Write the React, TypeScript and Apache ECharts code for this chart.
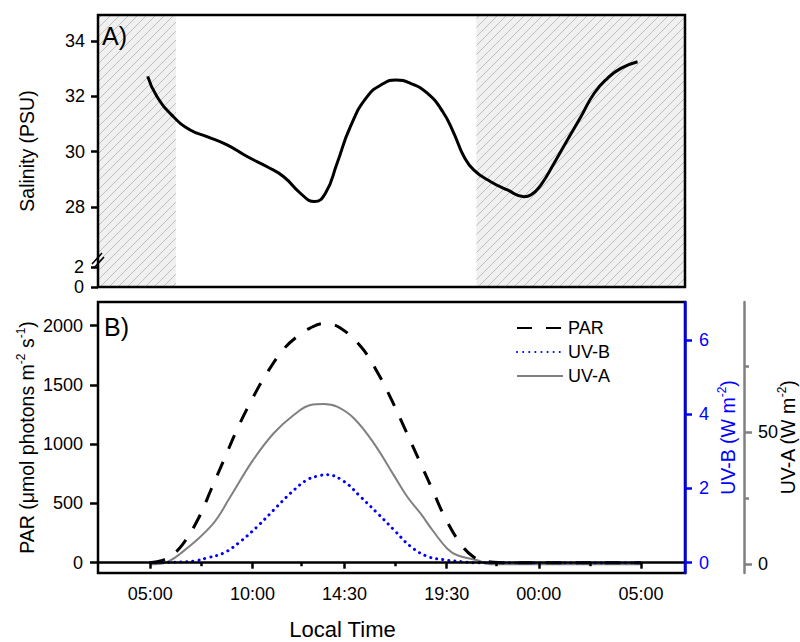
import React, { useEffect, useRef } from 'react';
import * as echarts from 'echarts';

// ---------- data ----------
const X_MIN = 2.45;
const X_MAX = 31.15;
const TIME_TICKS = [5, 10, 14.5, 19.5, 24, 29];
const TIME_LABELS = ['05:00', '10:00', '14:30', '19:30', '00:00', '05:00'];
const TIME_MINOR_TICKS = [7.5, 12.4, 17, 21.9, 26.5];
const NIGHT_BANDS: [number, number][] = [[2.45, 6.26], [20.95, 31.15]];

const SAL_UPPER_TICKS = [28, 30, 32, 34];
const SAL_LOWER_TICKS = [0, 2];
const PAR_TICKS = [0, 500, 1000, 1500, 2000];
const UVB_TICKS = [0, 2, 4, 6];
const UVA_TICKS = [0, 50];
const UVA_MINOR_TICKS = [25, 75];

const SALINITY: [number, number][] = [
  [4.88, 32.72], [5.33, 31.99], [6.14, 31.26], [6.96, 30.78], [7.78, 30.54], [8.76, 30.24],
  [9.74, 29.82], [10.72, 29.45], [11.53, 29.09], [12.35, 28.49], [13.03, 28.19], [13.57, 28.49],
  [14.14, 29.58], [14.79, 30.9], [15.61, 31.99], [16.43, 32.47], [17.0, 32.59], [17.73, 32.47],
  [18.55, 32.11], [19.3, 31.45], [19.85, 30.66], [20.34, 29.82], [20.83, 29.33], [21.65, 28.91],
  [22.47, 28.61], [23.28, 28.37], [23.61, 28.43], [24.1, 28.79], [24.75, 29.58], [25.4, 30.42],
  [26.06, 31.26], [26.71, 32.11], [27.36, 32.65], [28.01, 33.01], [28.83, 33.25],
];

const PAR: [number, number][] = [
  [5.0, 0], [5.6, 20], [6.0, 55], [6.58, 152], [7.37, 377], [7.99, 622], [8.64, 881], [9.26, 1128],
  [9.95, 1369], [10.73, 1606], [11.53, 1803], [12.2, 1910], [12.82, 1980], [13.5, 2018], [14.22, 1989],
  [15.32, 1820], [16.18, 1586], [16.84, 1361], [17.49, 1117], [18.14, 869], [18.8, 616], [19.45, 369],
  [20.21, 152], [20.8, 50], [21.3, 17], [21.8, 3], [22.3, 0], [29, 0],
];

const UVA: [number, number][] = [
  [5.0, 0], [5.64, 0.4], [6.47, 4.0], [8.02, 14.8], [8.92, 25.5], [9.98, 38.8], [11.04, 49.5],
  [12.02, 56.4], [12.84, 60.2], [13.49, 60.6], [14.14, 59.6], [14.96, 55.2], [15.94, 45.7],
  [16.91, 33.7], [17.57, 25.5], [18.22, 19.2], [18.87, 12.2], [19.53, 5.9], [20.02, 3.4],
  [21.0, 1.5], [21.65, 0], [29, 0],
];

const UVB: [number, number][] = [
  [5.0, 0], [6.13, 0.01], [7.2, 0.05], [7.78, 0.13], [8.59, 0.26], [9.41, 0.57], [10.23, 0.97],
  [11.04, 1.42], [11.86, 1.87], [12.67, 2.23], [13.33, 2.35], [13.65, 2.37], [14.47, 2.19],
  [15.28, 1.78], [16.1, 1.34], [16.91, 0.89], [17.73, 0.44], [18.55, 0.17], [19.36, 0.08],
  [20.18, 0.03], [21.0, 0], [29, 0],
];

const FONT = "'Liberation Sans', Arial, Helvetica, sans-serif";

function makeHatch(): HTMLCanvasElement {
  const s = 9;
  const c = document.createElement('canvas');
  c.width = s;
  c.height = s;
  const ctx = c.getContext('2d')!;
  ctx.fillStyle = '#f0f0f0';
  ctx.fillRect(0, 0, s, s);
  ctx.strokeStyle = '#b9b9b9';
  ctx.lineWidth = 0.9;
  ctx.beginPath();
  ctx.moveTo(0, s);
  ctx.lineTo(s, 0);
  ctx.moveTo(-1, 1);
  ctx.lineTo(1, -1);
  ctx.moveTo(s - 1, s + 1);
  ctx.lineTo(s + 1, s - 1);
  ctx.stroke();
  return c;
}

export default function App() {
  const ref = useRef<HTMLDivElement>(null);

  useEffect(() => {
    if (!ref.current) return;
    const chart = echarts.init(ref.current, undefined, { renderer: 'svg' });
    const hatch = makeHatch();
    const black = '#000';
    const blue = '#0000ff';
    const gray = '#808080';
    const TICK_FS = 18;
    const NAME_FS = 19.5;
    const xBase = { type: 'value', min: X_MIN, max: X_MAX };
    const noSplit = { show: false };
    const plain = (v: number) => String(v);
    const timeFmt = (v: number) => {
      const i = TIME_TICKS.findIndex((t) => Math.abs(t - v) < 1e-6);
      return i >= 0 ? TIME_LABELS[i] : '';
    };
    const gridBase = { left: 98, width: 587, outerBoundsMode: 'none', containLabel: false };
    const supRich = (color: string) => ({
      sup: { fontSize: 12, verticalAlign: 'top', color, fontFamily: FONT },
    });

    const option: any = {
      animation: false,
      textStyle: { fontFamily: FONT, color: black },
      grid: [
        { ...gridBase, top: 15, height: 272, show: true, borderColor: black, borderWidth: 2.5, backgroundColor: 'transparent', z: 10 },
        { ...gridBase, top: 15, height: 243 },
        { ...gridBase, top: 258, height: 29 },
        { ...gridBase, top: 302, height: 271, show: true, borderColor: black, borderWidth: 2.5, backgroundColor: 'transparent', z: 10 },
      ],
      xAxis: [
        { ...xBase, gridIndex: 0, show: false },
        { ...xBase, gridIndex: 1, show: false },
        { ...xBase, gridIndex: 2, show: false },
        {
          ...xBase, gridIndex: 3, position: 'bottom', z: 11,
          axisLine: { show: true, lineStyle: { color: black, width: 2.5 } },
          axisTick: { show: true, customValues: TIME_TICKS, length: 6, lineStyle: { color: black, width: 2.5 } },
          axisLabel: { customValues: TIME_TICKS, formatter: timeFmt, fontSize: TICK_FS, color: black, margin: 12, fontFamily: FONT },
          splitLine: noSplit,
          name: 'Local Time', nameLocation: 'middle', nameGap: 45, nameMoveOverlap: false,
          nameTextStyle: { fontSize: 22, color: black, fontFamily: FONT, padding: [0, 98, 0, 0] },
        },
        {
          ...xBase, gridIndex: 3, position: 'bottom', z: 11,
          axisLine: { show: false },
          axisTick: { show: true, customValues: TIME_MINOR_TICKS, length: 3.5, lineStyle: { color: black, width: 2.5 } },
          axisLabel: { show: false },
          splitLine: noSplit,
        },
      ],
      yAxis: [
        {
          type: 'value', gridIndex: 0, min: 0, max: 1,
          axisLine: { show: false }, axisTick: { show: false }, axisLabel: { show: false }, splitLine: noSplit,
          name: 'Salinity (PSU)', nameLocation: 'middle', nameGap: 61, nameRotate: 90, nameMoveOverlap: false,
          nameTextStyle: { fontSize: NAME_FS, color: black, fontFamily: FONT },
        },
        {
          type: 'value', gridIndex: 1, min: 26.15, max: 34.94,
          axisLine: { show: false },
          axisTick: { show: true, customValues: SAL_UPPER_TICKS, length: 7, lineStyle: { color: black, width: 2.5 } },
          axisLabel: { customValues: SAL_UPPER_TICKS, formatter: plain, fontSize: TICK_FS, color: black, margin: 13, fontFamily: FONT },
          splitLine: noSplit,
        },
        {
          type: 'value', gridIndex: 2, min: 0, max: 2.9,
          axisLine: { show: false },
          axisTick: { show: true, customValues: SAL_LOWER_TICKS, length: 7, lineStyle: { color: black, width: 2.5 } },
          axisLabel: { customValues: SAL_LOWER_TICKS, formatter: plain, fontSize: TICK_FS, color: black, margin: 14, fontFamily: FONT },
          splitLine: noSplit,
        },
        {
          type: 'value', gridIndex: 3, min: -87, max: 2200, position: 'left',
          axisLine: { show: false },
          axisTick: { show: true, customValues: PAR_TICKS, length: 8, lineStyle: { color: black, width: 2.5 } },
          axisLabel: { customValues: PAR_TICKS, formatter: plain, fontSize: TICK_FS, color: black, margin: 15, fontFamily: FONT },
          splitLine: noSplit,
          name: 'PAR (μmol photons m{sup|-2} s{sup|-1})', nameLocation: 'middle', nameGap: 59, nameRotate: 90, nameMoveOverlap: false,
          nameTextStyle: { fontSize: NAME_FS, color: black, lineHeight: 24, fontFamily: FONT, rich: supRich(black) },
        },
        {
          type: 'value', gridIndex: 3, min: -0.277, max: 7.02, position: 'right', z: 12,
          axisLine: { show: true, lineStyle: { color: blue, width: 2.5 } },
          axisTick: { show: true, customValues: UVB_TICKS, length: 7, lineStyle: { color: blue, width: 2.5 } },
          axisLabel: { customValues: UVB_TICKS, formatter: plain, fontSize: TICK_FS, color: blue, margin: 14, fontFamily: FONT },
          splitLine: noSplit,
          name: 'UV-B (W m{sup|-2})', nameLocation: 'middle', nameGap: 31, nameRotate: 90, nameMoveOverlap: false,
          nameTextStyle: { fontSize: NAME_FS, color: blue, lineHeight: 24, fontFamily: FONT, rich: supRich(blue) },
        },
        {
          type: 'value', gridIndex: 3, min: -3.29, max: 99.1, position: 'right', offset: 59, z: 12,
          axisLine: { show: true, lineStyle: { color: gray, width: 2.5 } },
          axisTick: { show: true, customValues: UVA_TICKS, length: 8, lineStyle: { color: gray, width: 2.5 } },
          axisLabel: { customValues: UVA_TICKS, formatter: plain, fontSize: TICK_FS, color: black, margin: 14, fontFamily: FONT },
          splitLine: noSplit,
          name: 'UV-A (W m{sup|-2})', nameLocation: 'middle', nameGap: 32, nameRotate: 90, nameMoveOverlap: false,
          nameTextStyle: { fontSize: NAME_FS, color: black, lineHeight: 24, fontFamily: FONT, rich: supRich(black) },
        },
        {
          type: 'value', gridIndex: 3, min: -3.29, max: 99.1, position: 'right', offset: 59, z: 12,
          axisLine: { show: false },
          axisTick: { show: true, customValues: UVA_MINOR_TICKS, length: 5, lineStyle: { color: gray, width: 2.5 } },
          axisLabel: { show: false },
          splitLine: noSplit,
        },
      ],
      legend: {
        orient: 'vertical', left: 511, top: 314, itemWidth: 46, itemHeight: 14, itemGap: 6,
        data: ['PAR', 'UV-B', 'UV-A'],
        itemStyle: { opacity: 0 },
        textStyle: { fontSize: TICK_FS, color: black, fontFamily: FONT },
      },
      graphic: [
        { type: 'text', left: 102, top: 23, z: 20, style: { text: 'A)', fontSize: 25, fill: black, fontFamily: FONT } },
        { type: 'text', left: 104, top: 314, z: 20, style: { text: 'B)', fontSize: 25, fill: black, fontFamily: FONT } },
        { type: 'line', z: 20, shape: { x1: 92, y1: 264, x2: 102, y2: 253 }, style: { stroke: black, lineWidth: 1.6 } },
        { type: 'line', z: 20, shape: { x1: 94, y1: 268, x2: 104, y2: 257 }, style: { stroke: black, lineWidth: 1.6 } },
      ],
      series: [
        {
          name: 'night', type: 'line', xAxisIndex: 0, yAxisIndex: 0, data: [], silent: true, z: 1,
          markArea: {
            silent: true,
            itemStyle: { color: { image: hatch, repeat: 'repeat', imageWidth: 9, imageHeight: 9 } },
            data: NIGHT_BANDS.map(([a, b]) => [{ xAxis: a }, { xAxis: b }]),
          },
        },
        {
          name: 'Salinity', type: 'line', xAxisIndex: 1, yAxisIndex: 1, data: SALINITY, smooth: 0.5,
          symbol: 'none', z: 3, lineStyle: { color: black, width: 3 }, itemStyle: { color: black },
        },
        {
          name: 'UV-A', type: 'line', xAxisIndex: 3, yAxisIndex: 5, data: UVA, smooth: 0.4,
          symbol: 'none', z: 3, lineStyle: { color: gray, width: 2 }, itemStyle: { color: gray },
        },
        {
          name: 'PAR', type: 'line', xAxisIndex: 3, yAxisIndex: 3, data: PAR, smooth: 0.4,
          symbol: 'none', z: 4, lineStyle: { color: black, width: 3, type: [15, 14] }, itemStyle: { color: black },
        },
        {
          name: 'UV-B', type: 'line', xAxisIndex: 3, yAxisIndex: 4, data: UVB, smooth: 0.4,
          symbol: 'none', z: 5, lineStyle: { color: blue, width: 3, type: [0.1, 6], cap: 'round' }, itemStyle: { color: blue },
        },
      ],
    };
    chart.setOption(option);
    return () => chart.dispose();
  }, []);

  return (
    <div
      ref={ref}
      style={{ position: 'absolute', left: 0, top: 0, width: 800, height: 642, background: '#fff' }}
    />
  );
}
